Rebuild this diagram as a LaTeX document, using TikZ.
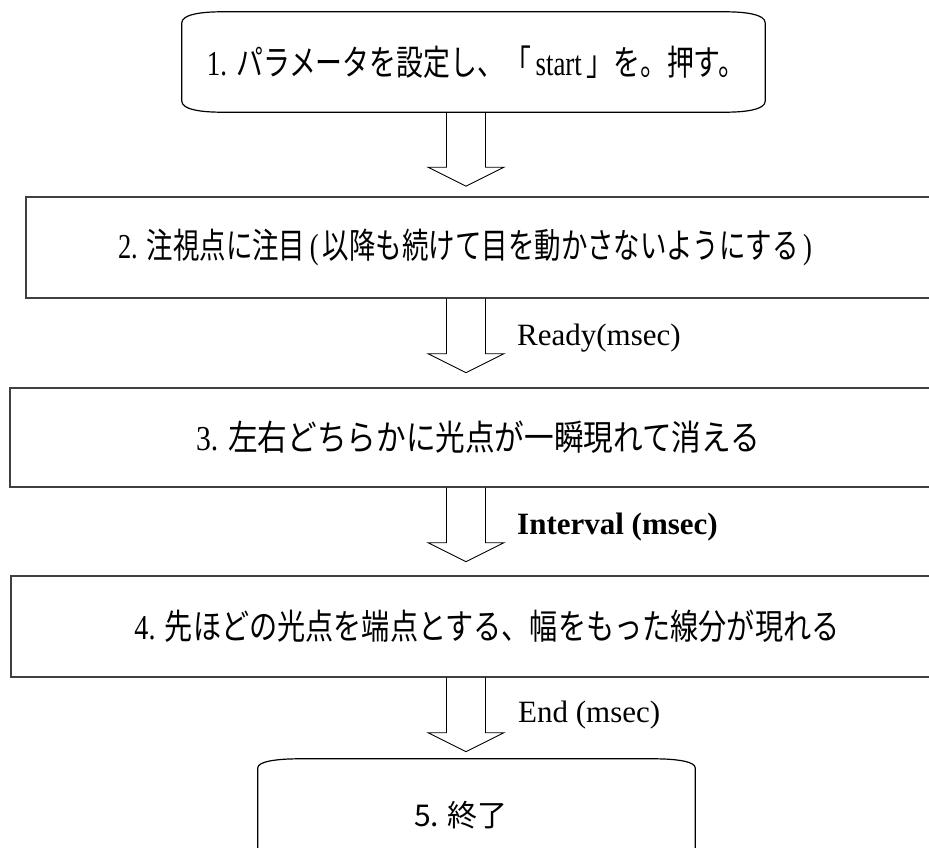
\documentclass[tikz,border=0pt]{standalone}
\usepackage{fontspec}
\usepackage{graphicx}
\setmainfont{Liberation Serif}
\newfontfamily\jp{Noto Sans CJK JP}
\usetikzlibrary{calc}
\newcommand\blockarrow[1]{%
  \draw[arrowline] let \p1=(#1) in
    (\x1-19.5pt,\y1) -- (\x1-19.5pt,\y1-55pt) -- (\x1-38pt,\y1-55pt) --
    (\x1,\y1-74pt) -- (\x1+38pt,\y1-55pt) -- (\x1+19.5pt,\y1-55pt) -- (\x1+19.5pt,\y1);}
\begin{document}
\begin{tikzpicture}[x=1pt,y=-1pt,
  boxline/.style={draw=black!75, line width=1.4pt},
  curveline/.style={draw=black, line width=1.2pt},
  frame/.style={rectangle, inner sep=0pt},
  arrowline/.style={draw=black, line width=0.9pt, line join=miter},
  lbl/.style={anchor=base west, inner sep=0pt, font=\fontsize{31}{36}\selectfont},
  lblb/.style={lbl, font=\fontsize{31}{36}\selectfont\bfseries},
  txt/.style={inner sep=0pt, font=\fontsize{35}{40}\selectfont}]
\useasboundingbox (0,0) rectangle (929,848);
\clip (0,0) rectangle (929,848);
\coordinate (ax) at (466,0);

% box 1 (rounded terminator)
\node[frame, minimum width=583pt, minimum height=100pt] (b1) at (473.5,62) {};
\draw[curveline] ($(b1.north west)+(0,11)$) -- ($(b1.south west)+(0,-11)$)
  .. controls +(0,8) and +(-22,0) .. ($(b1.south west)+(40,0)$)
  -- ($(b1.south east)+(-40,0)$)
  .. controls +(22,0) and +(0,8) .. ($(b1.south east)+(0,-11)$)
  -- ($(b1.north east)+(0,11)$)
  .. controls +(0,-8) and +(22,0) .. ($(b1.north east)+(-40,0)$)
  -- ($(b1.north west)+(40,0)$)
  .. controls +(-22,0) and +(0,-8) .. ($(b1.north west)+(0,11)$) -- cycle;
\node[txt] (t1) at (476,62) {\resizebox{538pt}{\height}{1. {\jp パラメータを設定し、「}\,start\,{\jp 」を。押す。}}};

% box 2
\node[frame, boxline, minimum width=954pt, minimum height=101pt] (b2) at (503,247.5) {};
\node[txt] (t2) at (465,247) {\resizebox{694pt}{\height}{2. {\jp 注視点に注目}\,(\,{\jp 以降も続けて目を動かさないようにする}\,)}};

% box 3
\node[frame, boxline, minimum width=970pt, minimum height=99pt] (b3) at (495,437.5) {};
\node[txt] (t3) at (478,437) {\resizebox{564pt}{\height}{3. {\jp 左右どちらかに光点が一瞬現れて消える}}};

% box 4
\node[frame, boxline, minimum width=969pt, minimum height=101pt] (b4) at (495.5,626.5) {};
\node[txt] (t4) at (487,626) {\resizebox{705pt}{\height}{4. {\jp 先ほどの光点を端点とする、幅をもった線分が現れる}}};

% box 5 (rounded terminator, cut at bottom)
\node[frame, minimum width=437pt, minimum height=121pt] (b5) at (476.5,819.5) {};
\draw[curveline] ($(b5.south west)+(0,20)$) -- ($(b5.north west)+(0,9)$)
  .. controls +(0,-6) and +(-25,0) .. ($(b5.north west)+(42,0)$)
  -- ($(b5.north east)+(-42,0)$)
  .. controls +(25,0) and +(0,-6) .. ($(b5.north east)+(0,9)$)
  -- ($(b5.south east)+(0,20)$);
\node[txt, font=\fontsize{30}{36}\selectfont\jp] (t5) at (461,815) {5. 終了};

% block arrows
\blockarrow{b1.south -| ax}
\blockarrow{b2.south -| ax}
\blockarrow{b3.south -| ax}
\blockarrow{b4.south -| ax}

% labels
\node[lbl] (l2) at (517,345) {Ready(msec)};
\node[lblb] (l3) at (517,534) {Interval (msec)};
\node[lbl] (l4) at (518,722) {End (msec)};
\end{tikzpicture}
\end{document}
